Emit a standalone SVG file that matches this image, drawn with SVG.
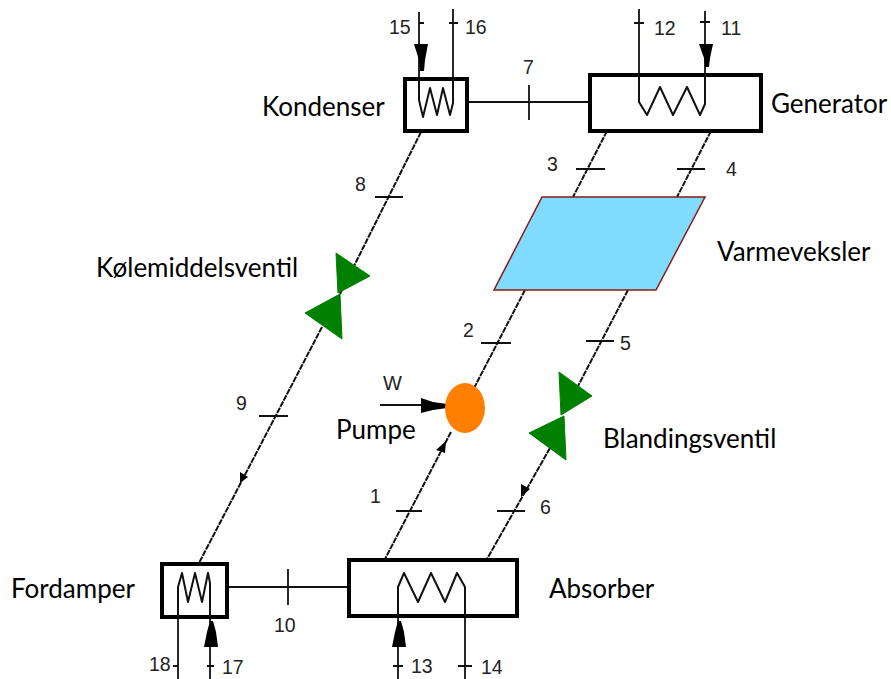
<svg xmlns="http://www.w3.org/2000/svg" width="891" height="679" viewBox="0 0 891 679">
<style>
.box{fill:#fff;stroke:#000;stroke-width:4}
.ln{fill:none;stroke:#111;stroke-width:1.8}
.dg{fill:none;stroke:#111;stroke-width:2;stroke-dasharray:6 1}
.coil{fill:none;stroke:#111;stroke-width:2;stroke-linejoin:round}
.v{fill:#008000;stroke:#008000;stroke-width:1;stroke-linejoin:round}
.ah{fill:#000}
.lab{font-family:"Liberation Sans",Arial,sans-serif;font-size:19.5px;fill:#222}
.name{font-family:"Lato","Open Sans",sans-serif;font-size:26px;fill:#000}
</style>
<rect width="891" height="679" fill="#fff"/>
<g id="connectors">
<g class="ln">
<path d="M419 12V79M453 9V79M639 9V76M705 11V76"/>
<path d="M419 23h5M449 23h9M634 23h10M700 22h10"/>
<path d="M468 102H590M529 85V120"/>
<path d="M375 197h28M259 416h29"/>
<path d="M576 169h29M677 169h28"/>
<path d="M481 343h30M586 341h28"/>
<path d="M396 511h26M497 511h28"/>
<path d="M228 587H349M288 569V605"/>
<path d="M178 616V679M210 616V679M398 616V679M465 616V679"/>
<path d="M173 666h5M207 666h7M393 666h10M458 666h14"/>
<path d="M380 405H446"/>
</g>
<path class="dg" d="M421 132L340 294M322 327L199 563M607 131L573 197M711 131L677 197M525 290L473 390M628 290L577 388M451 432L385 559M550 448L487 559"/>
</g>
<g id="arrowheads" class="ah">
<path d="M414 44h14l-3 16-1 11h-4l-1-11z"/>
<path d="M699 44h14l-3 14-1 9h-4l-1-9z"/>
<path d="M204 647h14l-2-15-3-11h-3l-3 11z"/>
<path d="M392 647h14l-2-15-3-11h-3l-3 11z"/>
<path d="M421 398v15l12-3 14-2v-4l-14-2z"/>
<path d="M446 441l-10 9 9 3z"/>
<path d="M240 483l0-11 8 5z"/>
<path d="M521 497l0-13 9 5z"/>
</g>
<g id="kondenser"><rect class="box" x="405" y="79" width="62" height="52"/><path class="coil" d="M419 79V100L423 117L430 88L437 115L443 88L450 115L453 103V79"/><text class="name" x="262" y="116">Kondenser</text></g>
<g id="generator"><rect class="box" x="590" y="75" width="171" height="56"/><path class="coil" d="M639 76V102L647 115L660 87L673 115L687 87L700 115L705 104V76"/><text class="name" x="771" y="113">Generator</text></g>
<g id="varmeveksler"><path d="M542 197H705L656 290H494Z" fill="#80dcff" stroke="#8b1a1a" stroke-width="1.5"/><text class="name" x="717" y="261">Varmeveksler</text></g>
<g id="kolemiddelsventil"><path class="v" d="M336 253L370 276L338 293Z"/><path class="v" d="M340 294L305 313L342 339Z"/><text class="name" x="96" y="277">Kølemiddelsventil</text></g>
<g id="blandingsventil"><path class="v" d="M559 372L592 396L561 415Z"/><path class="v" d="M564 416L529 433L566 460Z"/><text class="name" x="603" y="448">Blandingsventil</text></g>
<g id="pumpe"><ellipse cx="465" cy="408" rx="20" ry="25" fill="#ff8000"/><text class="name" x="336" y="439">Pumpe</text></g>
<g id="fordamper"><rect class="box" x="162" y="564" width="65" height="53"/><path class="coil" d="M178 617V587L182 573L188 602L195 573L202 602L208 573L210 583V617"/><text class="name" x="11" y="598">Fordamper</text></g>
<g id="absorber"><rect class="box" x="349" y="560" width="168" height="56"/><path class="coil" d="M398 616V587L404 573L418 602L431 573L445 602L457 573L465 587V616"/><text class="name" x="549" y="598">Absorber</text></g>
<g id="labels" class="lab">
<text x="389" y="34">15</text><text x="465" y="34">16</text><text x="654" y="35">12</text><text x="721" y="35">11</text>
<text x="523" y="74">7</text><text x="547" y="171">3</text><text x="726" y="176">4</text><text x="355" y="191">8</text>
<text x="463" y="337">2</text><text x="620" y="350">5</text><text x="236" y="410">9</text><text x="370" y="503">1</text><text x="540" y="514">6</text>
<text x="274" y="632">10</text><text x="149" y="671">18</text><text x="222" y="674">17</text><text x="411" y="673">13</text><text x="481" y="674">14</text>
<text x="383" y="390" font-size="20">W</text>
</g>
</svg>
